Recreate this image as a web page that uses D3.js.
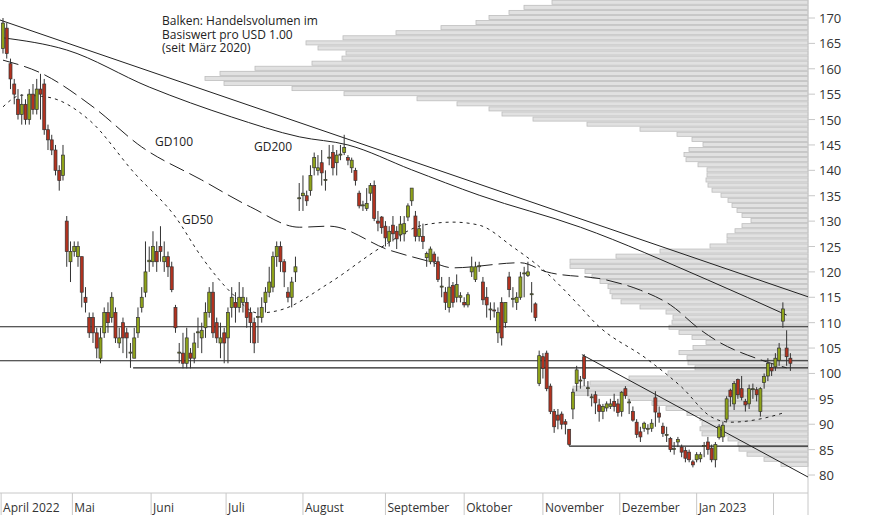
<!DOCTYPE html>
<html>
<head>
<meta charset="utf-8">
<script src="https://cdn.jsdelivr.net/npm/d3@7"></script>
<style>
body { margin: 0; background: #fff; }
text { font-family: "Open Sans", sans-serif; }
</style>
</head>
<body>
<script>
// daily candles [open, high, low, close], trading day index 0 = 1 April 2022
var candles = [
[164,170,163,169],[168,169,162,163],[161,162,156,158],[157,158,153,155],[154,156,150,151],
[151,155,149,153],[153,154,149,150],[150,156,149,155],[155,157,151,152],[152,158,151,156],
[156,159,150,155],[157,158,147,148],[148,149,144,146],[146,147,143,144],[144,145,139,140],
[140,141,136,138],[139,145,138,143],[130,131,121,124],[122,126,118,124],[124,126,123,125],
[123,126,121,125],[123,123,113,116],[115,117,112,114],[111,112,107,108],[111,112,106,108],
[108,109,103,105],[103,109,102,107],[108,113,107,112],[112,114,108,110],[111,116,110,115],
[112,113,106,107],[106,109,105,107],[110,111,104,107],[108,109,103,107],[104,106,101.1,104.2],
[103,109,103,107],[108,113,107,111],[113,117,112,115],[116,126,115,120],[122,125,120,122.3],
[122,128,121,125],[124,126,120,122],[125,129,122,124],[122,126,120,123],[123,124,119,121],
[121,122,116,116.5],[113,113.5,108,109],[104,106,102,104.2],[104,108,101,102],[102,109,101,107],
[104,105,101,103],[103,108,102,106],[108,111,105,108.2],[107,110,104,108.5],[109,114,107,112],
[112,117,111,116],[116,118,107,108],[110,111,106,107],[106,110,103,107],[108,109,102,106],
[107,113,102,112],[113,117,111,115],[114,116,110,113],[113,118,112,115],[114,117,112,115],
[114,115,109,111],[112,113,106,110],[110,111,104,106],[111,113,106,111.2],[111,115,110,113],
[114,117,112,116],[116,121,115,118],[117,124,116,123],[123,126,121,125],[125,126,120,122],
[122,122.5,117,120],[116,117,114,115],[115,119,113,118],[120,123,118,121],[134.4,137.5,132,134.6],
[135,139,132,135.5],[135,136,133,134],[136,141,135,139],[140.5,143.5,139,142.5],[140,143,139,140.5],
[141.5,144,137,139.5],[138,140,136,138.2],[142.4,145,141,142.6],[143.5,145,139,140.5],[141.5,144,139,143],
[143,145,142,143.2],[143.5,147,143,144.5],[142.5,143,141,142],[140.5,142.5,139.5,142],[140,140.5,137,138],
[135.5,136,132.5,133],[133,134,132,133.2],[132.5,136.5,132,133.5],[135.5,137.5,134,137],[137,138,130,130.5],
[130,132,128,129.6],[130.8,131,127.5,128.7],[129,130,125,126.7],[126,129,125,128],[129.2,131,126,127.5],
[128,129,124.5,126.5],[127.3,131,126,129.4],[127.5,131,126,129.5],[130.8,133.5,130,133],[134,136.5,133,136.5],
[131,132,126,127],[127,130,126,128.5],[127,129.5,124.5,126],[122.8,124,121,123.6],[122,125,121.5,124.5],
[123.5,124,121,122],[122,123,118,118.5],[117,119,115,117.2],[116,117,112.5,114],[113,119,112,117],
[117.3,118,113,114],[115,119.5,114,117.5],[115,116,114,115.3],[114,115,113,113.5],[113.5,116,113,115.5],
[120,123,119,121],[118.5,122,118,121],[121,122,120,121.2],[118,119,113.5,114.5],[115,117,111,113.5],
[112.5,114,110.5,112.7],[112.5,114,111,112.3],[108,113,106,112],[114,115,105.5,107],[110,114,109,114],
[119,120,115,116.5],[114.6,117,113,114.8],[114,116,112.5,115],[115,120,114.5,119],[119.6,121,115,119.8],
[119.3,122,119,120],[115.5,118,112,115.7],[113.7,114,110.3,111],[98,104.5,97.5,103.5],[103.3,104,99,101],
[104,104.5,96.5,97],[97.5,98,92,92.5],[92.5,93,88.3,89.5],[91.8,93,89,90.8],[92,92.5,89,90],
[90.5,91,88,90],[89,89,85.7,86],[93,97,91,96.3],[98,101.5,96.5,100.7],[98.5,99.5,97,98.7],
[103.3,103.8,97.5,99],[97,98.5,95.5,97.2],[95.2,96,93.5,95.4],[95.8,96.5,92,94.2],[93.8,95,90.5,92.5],
[92.5,94,91,93.5],[93.2,94.5,92.5,94],[93.5,95,93,94],[94.5,96,92.5,93.5],[94,95,91.5,92.3],
[92.5,96.5,91.5,96.3],[97,97.5,95,95.6],[94.2,95,92,94.4],[92.5,93.5,90.5,90.8],[90.4,91,87.3,88],
[88.5,89.5,86.5,87.5],[89.2,90.5,88.5,90.2],[89,90,88,89.2],[89.2,91,88.5,90.2],[95.2,96.5,89.5,92.4],
[92.2,93.5,90.3,91.4],[89.6,90.3,87.5,88.2],[87.8,89.5,86.5,88],[87.2,87.5,84.5,85],[85,86.5,84,85.2],
[86.5,87.5,85.5,87],[85.5,86,83.5,84.5],[84.8,85.5,82.5,83.3],[84.5,85,82.5,83],[82.6,83,81.5,82],
[83,84.5,82.5,84],[83.2,84.5,82.5,84],[85.6,86.5,83.5,85.8],[86.5,87.5,84,85],[85.3,86,82.5,83],
[83,86.5,81.5,86],[87.4,90,87,89.5],[87.5,90.5,86.5,89.8],[91,95.5,90.5,95],[96.7,97,93.5,95.4],
[94,98.5,92.8,98],[98.8,99,95,95.8],[97,99.5,94.7,95.3],[94.5,95,92.5,93.8],[94,97.8,93,97],
[96.8,98,95,97],[96.8,97.3,94.5,95.8],[92.5,97.3,91.5,97],[98.2,100,97,99.4],[99.5,103,98.5,102],
[101.2,102,99.5,100.5],[101.3,104,100.5,103],[102.6,106,101.5,105],[110.3,114,109,112.7],[105,108.5,101.5,103.3],
[103,104,100.5,102]
];

// moving averages as [day index, value]
var gd200 = [[0,166.1],[17,163.7],[39,156.4],[61,150.5],[79,146.6],[92,145.0],[109,140.1],[127,135.1],[154,128.8],[188,118.4],[209,111.5]];
var gd100 = [[0,161.7],[10,159.2],[24,152.5],[37,144.6],[53,138.1],[66,132.8],[79,128.8],[87,129],[103,124.3],[114,122],[120,120.8],[138,121.8],[145,120],[161,118.4],[170,116.4],[178,113.5],[186,108.6],[190,106.6],[202,102.7],[209,101.1]];
var gd50 = [[0,152.5],[5,154.8],[12,154.4],[23,149.9],[35,139.5],[46,130.8],[53,122.9],[61,115.8],[68,111.9],[74,112.5],[87,117.8],[101,124.9],[112,129.2],[120,129.8],[127,129.2],[136,124.9],[145,119.8],[154,113.1],[158,109.9],[172,102.7],[181,97.3],[189,91.4],[194,90.4],[203,91.2],[208,92.2]];

// trend lines and support lines
var trendLines = [
  [[-0.8,169.6],[214.7,115.1]],
  [[154.4,103.7],[214.7,79.6]]
];
var hLines = [[109.2,-0.8],[102.5,-0.8],[101.1,34.7],[85.7,151]];

// volume profile, one bar per price level (bar length in px units)
var profLevels = [];
for (var k = 173; k >= 81; k--) profLevels.push(k);
var profVolume = [
256,284,299,319,332,367,412,465,502,490,462,466,496,553,588,603,584,516,464,391,351,319,306,275,221,168,131,116,105,119,124,122,110,101,101,102,100,96,87,80,76,71,66,57,66,73,81,81,98,148,192,238,
238,223,216,208,200,198,196,187,168,142,135,136,139,129,116,102,115,129,121,120,113,140,179,218,235,235,180,156,142,121,108,106,108,106,80,70,69,61,44,27
];

var months = ["April 2022","Mai","Juni","Juli","August","September","Oktober","November","Dezember","Jan 2023",""];
var monthIdx = [-0.5,18.5,39.5,59.5,80,102,123,144,164.5,185,205.5];
var yTicks = d3.range(80, 171, 5);

var W = 874, H = 515, plotR = 808, axisY = 493;
var svg = d3.select("body").append("svg").attr("width", W).attr("height", H);

var x = d3.scaleLinear().domain([-0.8, 214.7]).range([0, plotR]);
var y = d3.scaleLinear().domain([80, 170]).range([475, 18]);

// volume profile
svg.append("g").selectAll("rect").data(profLevels).join("rect")
  .attr("x", function(d, i) { return plotR - profVolume[i]; })
  .attr("y", function(d) { return y(d + 0.5); })
  .attr("width", function(d, i) { return profVolume[i]; })
  .attr("height", function(d) { return y(d - 0.5) - y(d + 0.5) - 1; })
  .attr("fill", "#e1e1e1").attr("stroke", "#bdbdbd").attr("stroke-width", 0.8);

// axes
svg.append("line").attr("x1", plotR).attr("x2", plotR).attr("y1", 0).attr("y2", H).attr("stroke", "#c8c8c8");
svg.append("line").attr("x1", 0).attr("x2", plotR).attr("y1", axisY).attr("y2", axisY).attr("stroke", "#c8c8c8");
var ya = svg.append("g");
yTicks.forEach(function(t) {
  ya.append("line").attr("x1", plotR).attr("x2", plotR + 7).attr("y1", y(t)).attr("y2", y(t)).attr("stroke", "#c8c8c8");
  ya.append("text").attr("x", plotR + 11).attr("y", y(t) + 5).attr("font-size", 13).attr("fill", "#333").text(t);
});
monthIdx.forEach(function(m, i) {
  var mx = Math.max(0.5, x(m));
  svg.append("line").attr("x1", mx).attr("x2", mx).attr("y1", axisY).attr("y2", H).attr("stroke", "#c8c8c8");
  svg.append("text").attr("x", mx + 2).attr("y", 512).attr("font-size", 12).attr("fill", "#333").text(months[i]);
});

// lines
var line = d3.line().x(function(d) { return x(d[0]); }).y(function(d) { return y(d[1]); });
var smooth = d3.line().x(function(d) { return x(d[0]); }).y(function(d) { return y(d[1]); }).curve(d3.curveMonotoneX);
trendLines.forEach(function(t) {
  svg.append("path").attr("d", line(t)).attr("fill", "none").attr("stroke", "#222").attr("stroke-width", 1);
});
hLines.forEach(function(h) {
  svg.append("line").attr("x1", x(h[1])).attr("x2", plotR).attr("y1", y(h[0])).attr("y2", y(h[0]))
    .attr("stroke", "#222").attr("stroke-width", 1.2);
});
svg.append("path").attr("d", smooth(gd200)).attr("fill", "none").attr("stroke", "#222").attr("stroke-width", 1);
svg.append("path").attr("d", smooth(gd100)).attr("fill", "none").attr("stroke", "#222").attr("stroke-width", 1).attr("stroke-dasharray", "16,6");
svg.append("path").attr("d", smooth(gd50)).attr("fill", "none").attr("stroke", "#222").attr("stroke-width", 1).attr("stroke-dasharray", "3,4");

// candles
var cg = svg.append("g").selectAll("g").data(candles).join("g");
cg.append("line")
  .attr("x1", function(d, i) { return x(i); }).attr("x2", function(d, i) { return x(i); })
  .attr("y1", function(d) { return y(d[1]); }).attr("y2", function(d) { return y(d[2]); })
  .attr("stroke", "#333").attr("stroke-width", 1);
cg.append("rect")
  .attr("x", function(d, i) { return x(i) - 1.5; })
  .attr("width", 3)
  .attr("y", function(d) { return y(Math.max(d[0], d[3])); })
  .attr("height", function(d) { return Math.max(1, Math.abs(y(d[0]) - y(d[3]))); })
  .attr("fill", function(d) { return d[3] >= d[0] ? "#8fa319" : "#b3321f"; })
  .attr("stroke", "#333").attr("stroke-width", 0.7);

// labels
var note = ["Balken: Handelsvolumen im", "Basiswert pro USD 1.00", "(seit März 2020)"];
note.forEach(function(s, i) {
  svg.append("text").attr("x", 162).attr("y", 25 + i * 13.5).attr("font-size", 12).attr("fill", "#222").text(s);
});
svg.append("text").attr("x", 155).attr("y", 146).attr("font-size", 12).attr("fill", "#222").text("GD100");
svg.append("text").attr("x", 254).attr("y", 151).attr("font-size", 12).attr("fill", "#222").text("GD200");
svg.append("text").attr("x", 182).attr("y", 224).attr("font-size", 12).attr("fill", "#222").text("GD50");
</script>
</body>
</html>
